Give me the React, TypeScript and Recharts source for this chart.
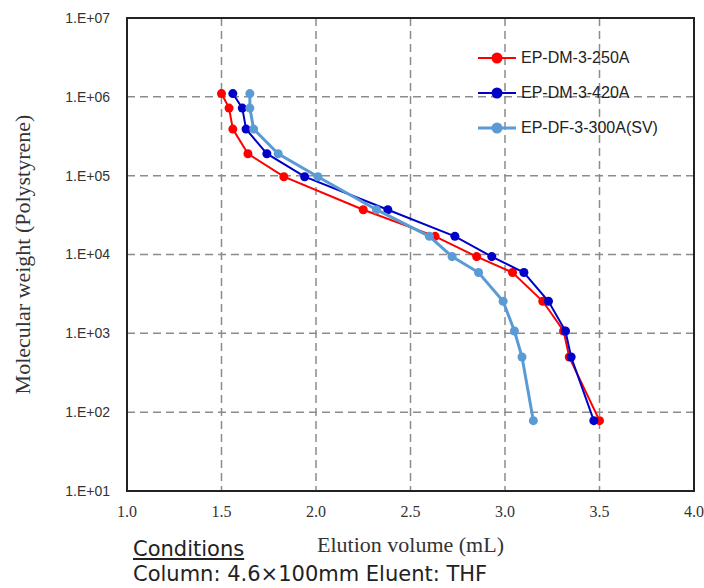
import React from "react";
import {
  ScatterChart,
  Scatter,
  XAxis,
  YAxis,
  ZAxis,
  CartesianGrid,
  ReferenceArea,
  Legend,
} from "recharts";

// molecular weight of each standard (polystyrene), shared by all three columns
const MW = [1.1e6, 7.2e5, 3.9e5, 1.9e5, 9.7e4, 3.7e4, 1.7e4, 9.4e3, 5.9e3, 2.55e3, 1.07e3, 500, 78];

// elution volume (mL) per column
const DM250 = [1.5, 1.54, 1.56, 1.64, 1.83, 2.25, 2.63, 2.85, 3.04, 3.2, 3.31, 3.34, 3.5];
const DM420 = [1.56, 1.61, 1.63, 1.74, 1.94, 2.38, 2.735, 2.93, 3.1, 3.23, 3.32, 3.35, 3.47];
const DF300 = [1.65, 1.65, 1.67, 1.8, 2.01, 2.32, 2.6, 2.72, 2.86, 2.99, 3.05, 3.09, 3.15];

const X_TICKS = [1.0, 1.5, 2.0, 2.5, 3.0, 3.5, 4.0];
const Y_TICKS = [10, 100, 1e3, 1e4, 1e5, 1e6, 1e7];

const SERIES = [
  { name: "EP-DM-3-250A", x: DM250, color: "#ff0000", width: 2 },
  { name: "EP-DM-3-420A", x: DM420, color: "#0000c8", width: 2 },
  { name: "EP-DF-3-300A(SV)", x: DF300, color: "#5b9bd5", width: 3 },
];

const toPoints = (xs: number[]) => xs.map((x, i) => ({ x, y: MW[i] }));

const fmtExp = (v: number) => {
  const e = Math.round(Math.log10(v));
  return `1.E+${e < 10 ? "0" + e : e}`;
};

function LegendBox() {
  return (
    <div style={{ fontFamily: "'Liberation Sans', Arial, sans-serif", fontSize: 16, color: "#222" }}>
      {SERIES.map((s) => (
        <div key={s.name} style={{ display: "flex", alignItems: "center", height: 35 }}>
          <svg width={40} height={14} style={{ marginRight: 3 }}>
            <line x1={0} y1={7} x2={38} y2={7} stroke={s.color} strokeWidth={s.width} />
            <circle cx={19} cy={7} r={5.5} fill={s.color} />
          </svg>
          <span>{s.name}</span>
        </div>
      ))}
    </div>
  );
}

export default function App() {
  return (
    <div style={{ position: "absolute", left: 0, top: 0, width: 704, height: 588, background: "#fff" }}>
      <ScatterChart width={704} height={588} margin={{ top: 18, right: 10, left: 0, bottom: 0 }}>
        <CartesianGrid stroke="#8c8c8c" strokeWidth={1.5} strokeDasharray="8 5" />
        <XAxis
          type="number"
          dataKey="x"
          domain={[1, 4]}
          ticks={X_TICKS}
          tickFormatter={(v: number) => v.toFixed(1)}
          height={97}
          axisLine={false}
          tickLine={false}
          tickSize={0}
          tickMargin={15}
          tick={{ fontFamily: "'Liberation Serif', 'Times New Roman', serif", fontSize: 16, fill: "#333" }}
          label={{
            value: "Elution volume (mL)",
            position: "center",
            dy: 5,
            style: { fontFamily: "'Liberation Serif', 'Times New Roman', serif", fontSize: 22, fill: "#333" },
          }}
        />
        <YAxis
          type="number"
          dataKey="y"
          scale="log"
          domain={[10, 1e7]}
          ticks={Y_TICKS}
          allowDataOverflow
          tickFormatter={fmtExp}
          width={127}
          axisLine={false}
          tickLine={false}
          tickSize={0}
          tickMargin={17}
          tick={{ fontFamily: "'Liberation Sans', Arial, sans-serif", fontSize: 14, fill: "#333" }}
          label={{
            value: "Molecular weight (Polystyrene)",
            angle: -90,
            position: "center",
            dx: -41,
            style: { fontFamily: "'Liberation Serif', 'Times New Roman', serif", fontSize: 22, fill: "#333" },
          }}
        />
        <ZAxis range={[95, 95]} />
        <ReferenceArea x1={1} x2={4} y1={10} y2={1e7} fill="none" stroke="#222" strokeWidth={2} />
        {SERIES.map((s) => (
          <Scatter
            key={s.name}
            name={s.name}
            data={toPoints(s.x)}
            fill={s.color}
            line={{ stroke: s.color, strokeWidth: s.width }}
            isAnimationActive={false}
          />
        ))}
        <Legend
          layout="vertical"
          align="center"
          verticalAlign="middle"
          content={() => <LegendBox />}
          wrapperStyle={{ left: 478, top: 40, width: 220 }}
        />
      </ScatterChart>
      <div
        style={{
          position: "absolute",
          left: 133,
          top: 537,
          fontFamily: "'DejaVu Sans', Verdana, sans-serif",
          fontSize: 21,
          lineHeight: "25px",
          color: "#222",
          whiteSpace: "nowrap",
        }}
      >
        <div style={{ textDecoration: "underline" }}>Conditions</div>
        <div>Column: 4.6×100mm Eluent: THF</div>
      </div>
    </div>
  );
}
